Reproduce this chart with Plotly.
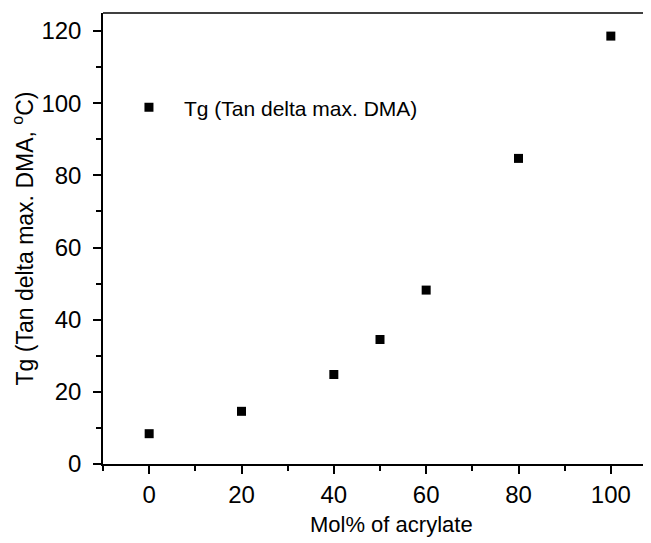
import plotly.graph_objects as go

mol_pct = [0, 20, 40, 50, 60, 80, 100]
tg_values = [8.4, 14.6, 24.8, 34.5, 48.2, 84.7, 118.6]
series_name = "Tg (Tan delta max. DMA)"
x_title = "Mol% of acrylate"
y_title = "Tg (Tan delta max. DMA, <sup>o</sup>C)"

FAMILY = "Liberation Sans, Arial, sans-serif"
tick_font = dict(family=FAMILY, size=24, color="black")

fig = go.Figure()
fig.add_trace(go.Scatter(
    x=mol_pct, y=tg_values, mode="markers", name=series_name,
    marker=dict(symbol="square", size=9, color="black"),
))

axis_common = dict(
    showline=True, linecolor="black", linewidth=1.5,
    ticks="outside", ticklen=8, tickwidth=1.5, tickcolor="black",
    showgrid=False, zeroline=False, tickfont=tick_font,
    minor=dict(ticks="outside", ticklen=5, tickwidth=1.5, tickcolor="black", dtick=10, showgrid=False),
)

fig.update_layout(
    width=643, height=535,
    margin=dict(l=95, r=0, t=5, b=79),
    paper_bgcolor="white", plot_bgcolor="white",
    font=dict(family=FAMILY, color="black"),
    showlegend=True,
    legend=dict(x=0.02, y=0.79, xanchor="left", yanchor="middle",
                bgcolor="rgba(0,0,0,0)", font=dict(family=FAMILY, size=21, color="black"),
                itemwidth=60),
    xaxis=dict(range=[-10, 108.7], tickvals=[0, 20, 40, 60, 80, 100], automargin=False,
               **axis_common),
    yaxis=dict(range=[0, 125], tickvals=[0, 20, 40, 60, 80, 100, 120], automargin=False,
               ticklabelstandoff=7,
               title=dict(text=y_title, font=dict(family=FAMILY, size=23, color="black"), standoff=8),
               **axis_common),
    annotations=[dict(text=x_title, xref="paper", yref="paper", x=0.526, y=-0.135,
                      xanchor="center", yanchor="middle", showarrow=False,
                      font=dict(family=FAMILY, size=22, color="black"))],
    shapes=[dict(type="line", xref="paper", yref="paper", x0=0, x1=1, y0=1, y1=1,
                 line=dict(color="black", width=1.5))],
)

fig.write_html("out.html")
